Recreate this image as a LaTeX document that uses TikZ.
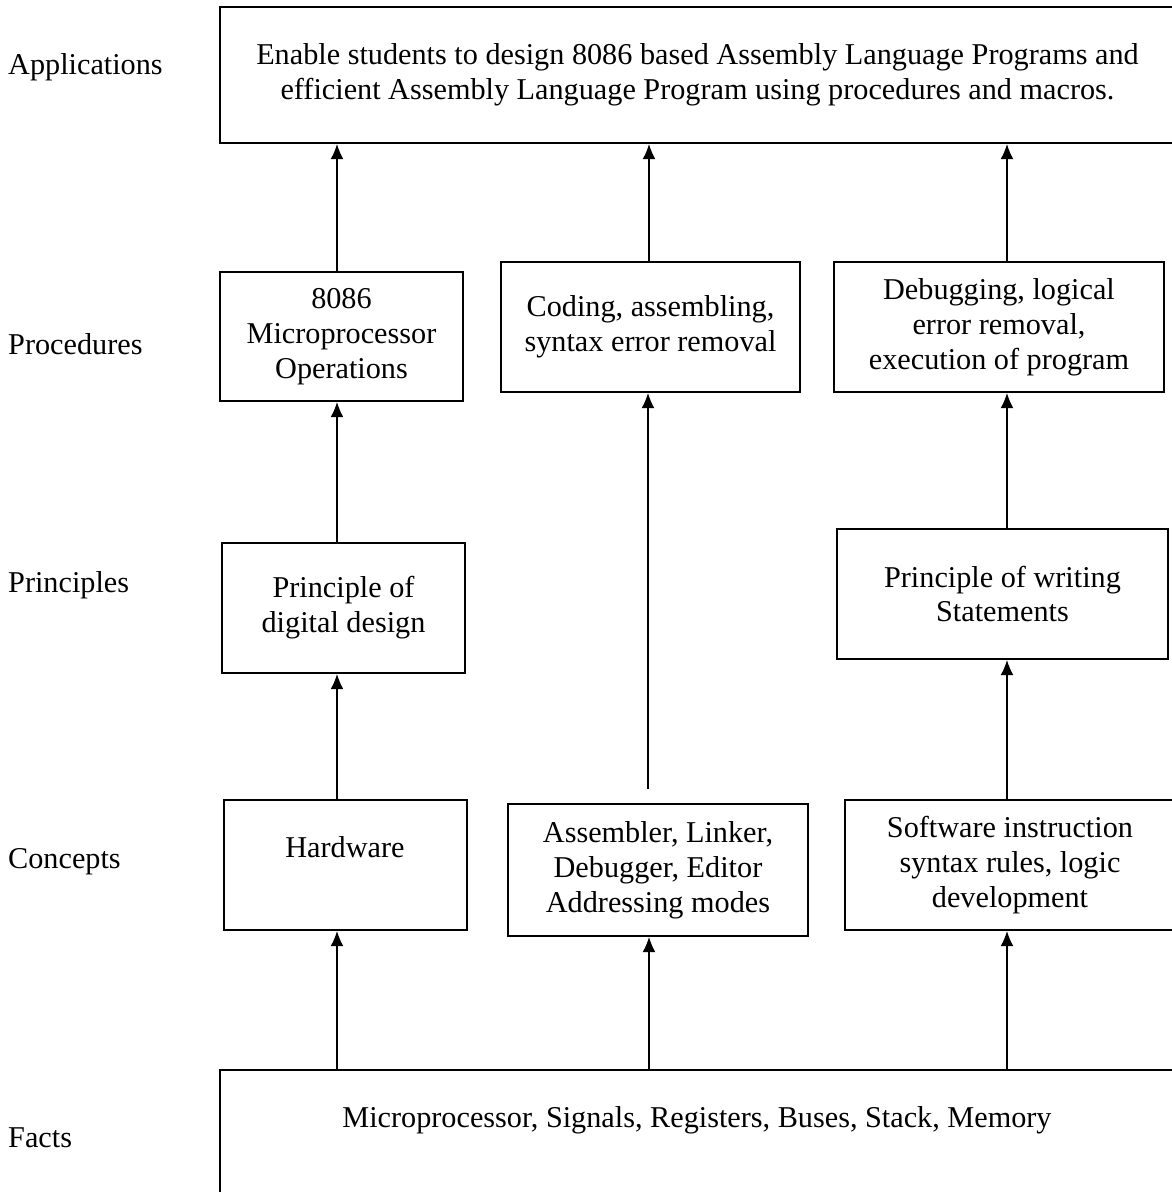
\documentclass[tikz,border=0pt]{standalone}
\usepackage{fontspec}
\setmainfont{Liberation Serif}
\usetikzlibrary{arrows.meta}

\begin{document}
\begin{tikzpicture}[x=0.43pt,y=-0.43pt,>={Latex[length=6.5pt,width=5.5pt]},
    box/.style={draw,line width=0.8pt,inner sep=0pt,align=center,font=\fontsize{13}{15}\selectfont},
    wh/.style 2 args={minimum width=#1*0.43pt,minimum height=#2*0.43pt},
    txt/.style={align=center,font=\fontsize{13}{15}\selectfont},
    level/.style={anchor=west,font=\fontsize{13}{15}\selectfont},
    arr/.style={->,line width=0.6pt}]
  \useasboundingbox (0,0) rectangle (1172,1192);
  \clip (0,0) rectangle (1172,1192);
  % level names
  \node[level] (lapp) at (0,67) {Applications};
  \node[level] (lproc) at (0,344) {Procedures};
  \node[level] (lprin) at (0,585) {Principles};
  \node[level] (lconc) at (0,862) {Concepts};
  \node[level] (lfact) at (0,1138) {Facts};
  % applications
  \node[box,wh={955}{136}] (app) at (697.5,75) {Enable students to design 8086 based Assembly Language Programs and\\efficient Assembly Language Program using procedures and macros.};
  % procedures
  \node[box,wh={243}{129}] (mpo) at (341.5,336.5) {8086\\Microprocessor\\Operations};
  \node[box,wh={299}{130}] (cod) at (650.5,327) {Coding, assembling,\\syntax error removal};
  \node[box,wh={330}{130}] (dbg) at (999,327) {Debugging, logical\\error removal,\\execution of program};
  % principles
  \node[box,wh={243}{130}] (pdd) at (343.5,608) {Principle of\\digital design};
  \node[box,wh={331}{130}] (pws) at (1002.5,594) {Principle of writing\\Statements};
  % concepts
  \node[box,wh={243}{130}] (hw) at (345.5,865) {};
  \node[txt] (hwt) at (345,847) {Hardware};
  \node[box,wh={300}{132}] (asm) at (658,870) {Assembler, Linker,\\Debugger, Editor\\Addressing modes};
  \node[box,wh={330}{130}] (sw) at (1010,865) {Software instruction\\syntax rules, logic\\development};
  % facts
  \node[box,wh={955}{150}] (facts) at (697.5,1145) {};
  \node[txt] (factst) at (697,1120) {Microprocessor, Signals, Registers, Buses, Stack, Memory};
  % arrow columns
  \coordinate (c1) at (337,0);
  \coordinate (c2) at (649,0);
  \coordinate (c3) at (1007,0);
  \coordinate (gap) at (648,789);
  \path[arr] (facts.north -| c1) edge (hw.south -| c1);
  \path[arr] (hw.north -| c1) edge (pdd.south -| c1);
  \path[arr] (pdd.north -| c1) edge (mpo.south -| c1);
  \path[arr] (mpo.north -| c1) edge (app.south -| c1);
  \path[arr] (facts.north -| c2) edge (asm.south -| c2);
  \path[arr] (gap) edge (cod.south -| gap);
  \path[arr] (cod.north -| c2) edge (app.south -| c2);
  \path[arr] (facts.north -| c3) edge (sw.south -| c3);
  \path[arr] (sw.north -| c3) edge (pws.south -| c3);
  \path[arr] (pws.north -| c3) edge (dbg.south -| c3);
  \path[arr] (dbg.north -| c3) edge (app.south -| c3);
\end{tikzpicture}
\end{document}
